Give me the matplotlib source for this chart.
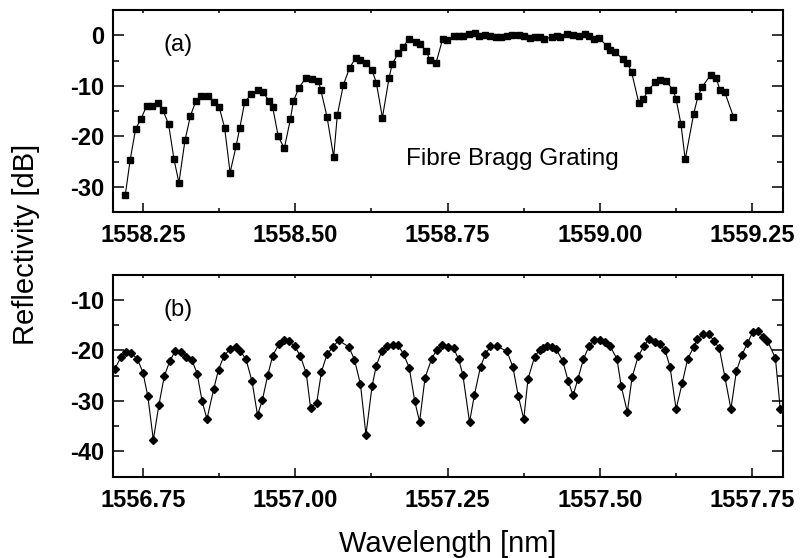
import matplotlib
matplotlib.use("Agg")
import matplotlib.pyplot as plt
from matplotlib.ticker import MultipleLocator, FormatStrFormatter

plt.rcParams['font.family'] = ['Liberation Sans', 'DejaVu Sans']
plt.rcParams['axes.unicode_minus'] = False

# Panel (a): Fibre Bragg grating reflectivity
wl_a = [1558.221, 1558.229, 1558.238, 1558.247, 1558.256, 1558.265, 1558.274, 1558.283,
        1558.292, 1558.301, 1558.309, 1558.319, 1558.328, 1558.337, 1558.346, 1558.356,
        1558.366, 1558.375, 1558.384, 1558.393, 1558.403, 1558.409, 1558.417, 1558.428,
        1558.438, 1558.447, 1558.457, 1558.463, 1558.472, 1558.482, 1558.492, 1558.497,
        1558.506, 1558.517, 1558.528, 1558.538, 1558.542, 1558.552, 1558.563, 1558.569,
        1558.579, 1558.589, 1558.599, 1558.607, 1558.616, 1558.626, 1558.633, 1558.643,
        1558.654, 1558.659, 1558.669, 1558.676, 1558.687, 1558.698, 1558.705, 1558.715,
        1558.721, 1558.731, 1558.742, 1558.749, 1558.761, 1558.768, 1558.776, 1558.785,
        1558.795, 1558.801, 1558.812, 1558.820, 1558.829, 1558.837, 1558.847, 1558.855,
        1558.868, 1558.876, 1558.885, 1558.893, 1558.902, 1558.909, 1558.921, 1558.929,
        1558.935, 1558.946, 1558.956, 1558.966, 1558.975, 1558.982, 1558.990, 1558.999,
        1559.011, 1559.017, 1559.025, 1559.038, 1559.045, 1559.052, 1559.064, 1559.071,
        1559.079, 1559.091, 1559.099, 1559.108, 1559.120, 1559.125, 1559.133, 1559.140,
        1559.154, 1559.161, 1559.168, 1559.182, 1559.191, 1559.197, 1559.205, 1559.219]
refl_a = [-31.6, -24.7, -18.5, -16.5, -14.0, -14.1, -13.4, -14.9,
          -17.6, -24.6, -29.2, -20.8, -15.9, -13.0, -12.0, -12.1,
          -13.2, -14.2, -18.3, -27.2, -21.9, -18.3, -13.2, -11.7,
          -10.8, -11.3, -13.0, -14.3, -20.0, -22.4, -16.6, -13.0,
          -10.4, -8.5, -8.6, -9.1, -10.9, -16.1, -24.1, -15.8,
          -9.8, -6.5, -4.5, -4.9, -5.4, -6.9, -9.4, -16.3,
          -8.4, -5.7, -3.6, -2.4, -0.7, -1.3, -1.8, -3.2,
          -4.9, -5.5, -0.7, -0.9, -0.2, -0.1, -0.1, 0.3,
          0.5, -0.2, 0.1, -0.1, -0.3, -0.4, -0.1, 0.1,
          0.1, -0.2, -0.6, -0.3, -0.3, -0.7, -0.4, -0.1,
          -0.4, 0.3, 0.1, -0.1, 0.2, -0.1, -0.7, -0.5,
          -2.1, -2.9, -3.4, -4.7, -5.5, -7.3, -13.5, -12.7,
          -10.9, -9.3, -8.8, -9.0, -10.8, -12.6, -17.6, -24.6,
          -15.5, -12.1, -10.2, -7.8, -8.5, -10.9, -11.3, -16.1]

# Panel (b)
wl_b = [1556.704, 1556.714, 1556.722, 1556.731, 1556.741, 1556.750, 1556.758, 1556.767,
        1556.776, 1556.785, 1556.794, 1556.803, 1556.812, 1556.821, 1556.830, 1556.839,
        1556.847, 1556.855, 1556.866, 1556.874, 1556.883, 1556.893, 1556.902, 1556.910,
        1556.919, 1556.929, 1556.938, 1556.946, 1556.955, 1556.963, 1556.973, 1556.981,
        1556.990, 1556.999, 1557.008, 1557.018, 1557.025, 1557.035, 1557.043, 1557.052,
        1557.062, 1557.071, 1557.088, 1557.097, 1557.107, 1557.116, 1557.126, 1557.133,
        1557.142, 1557.151, 1557.160, 1557.169, 1557.178, 1557.187, 1557.196, 1557.204,
        1557.213, 1557.224, 1557.232, 1557.241, 1557.250, 1557.260, 1557.268, 1557.275,
        1557.286, 1557.294, 1557.304, 1557.312, 1557.320, 1557.331, 1557.347, 1557.357,
        1557.366, 1557.375, 1557.382, 1557.393, 1557.401, 1557.407, 1557.413, 1557.421,
        1557.428, 1557.439, 1557.448, 1557.456, 1557.464, 1557.473, 1557.482, 1557.490,
        1557.500, 1557.509, 1557.517, 1557.528, 1557.535, 1557.545, 1557.553, 1557.563,
        1557.572, 1557.580, 1557.591, 1557.599, 1557.607, 1557.615, 1557.625, 1557.635,
        1557.644, 1557.654, 1557.660, 1557.670, 1557.679, 1557.688, 1557.696, 1557.705,
        1557.715, 1557.724, 1557.733, 1557.742, 1557.751, 1557.760, 1557.768, 1557.775,
        1557.788, 1557.796]
refl_b = [-23.6, -21.3, -20.3, -20.6, -21.7, -24.4, -29.1, -37.7,
          -30.9, -25.1, -22.1, -20.1, -20.3, -21.2, -21.8, -24.6,
          -30.0, -33.6, -27.7, -23.8, -21.1, -19.7, -19.3, -20.2,
          -21.7, -26.1, -32.8, -29.8, -24.8, -21.0, -18.8, -17.9,
          -18.2, -19.2, -21.0, -24.5, -31.3, -30.5, -24.2, -20.8,
          -19.3, -18.0, -19.3, -21.8, -26.7, -36.7, -27.1, -23.0,
          -20.1, -19.2, -19.0, -19.0, -20.8, -23.4, -30.0, -34.1,
          -25.4, -21.6, -19.9, -19.0, -19.3, -19.6, -21.7, -24.8,
          -34.2, -28.8, -23.2, -20.8, -19.2, -19.2, -20.1, -23.2,
          -29.0, -33.6, -25.6, -21.2, -19.9, -19.6, -19.2, -19.3,
          -19.7, -22.1, -26.1, -28.9, -25.6, -21.7, -19.2, -18.0,
          -18.0, -18.4, -19.2, -21.7, -27.1, -32.2, -25.2, -21.1,
          -19.2, -17.8, -18.3, -18.8, -20.0, -23.2, -31.6, -26.5,
          -21.7, -19.3, -17.8, -16.7, -16.8, -18.2, -19.6, -25.2,
          -31.6, -24.1, -20.9, -18.6, -16.3, -16.1, -17.4, -18.1,
          -21.5, -31.6]

xticks_a = [1558.25, 1558.50, 1558.75, 1559.00, 1559.25]
xticks_b = [1556.75, 1557.00, 1557.25, 1557.50, 1557.75]
yticks_a = [0, -10, -20, -30]
yticks_b = [-10, -20, -30, -40]

fig = plt.figure(figsize=(8, 5.58), dpi=100)
L = 112.5 / 800
W = (782.7 - 112.5) / 800
H = 202 / 558
ax1 = fig.add_axes([L, 1 - 212 / 558, W, H])
ax2 = fig.add_axes([L, 1 - 476.7 / 558, W, H])


def style(ax, xlim, ylim, xt, yt):
    ax.set_xlim(*xlim)
    ax.set_ylim(*ylim)
    ax.set_xticks(xt)
    ax.set_yticks(yt)
    ax.xaxis.set_minor_locator(MultipleLocator(0.125))
    ax.yaxis.set_minor_locator(MultipleLocator(5))
    ax.xaxis.set_major_formatter(FormatStrFormatter('%.2f'))
    for s in ax.spines.values():
        s.set_linewidth(1.5)
    ax.tick_params(axis='both', which='both', direction='in', width=1.1,
                   top=True, right=True, labelsize=17)
    ax.tick_params(axis='x', which='major', length=6.5, pad=9)
    ax.tick_params(axis='x', which='minor', length=3.2)
    ax.tick_params(axis='y', which='major', length=8, pad=6)
    ax.tick_params(axis='y', which='minor', length=4.3)
    for lab in ax.get_xticklabels() + ax.get_yticklabels():
        lab.set_fontweight('bold')


ax1.plot(wl_a, refl_a, color='black', lw=0.8, marker='s', ms=4.4)
style(ax1, (1558.2, 1559.3), (-35, 5), xticks_a, yticks_a)
ax1.text(1558.283, -1.9, '(a)', fontsize=17, va='center', ha='left')
ax1.text(1558.681, -24.6, 'Fibre Bragg Grating', fontsize=17.5, va='center', ha='left')

ax2.plot(wl_b, refl_b, color='black', lw=0.8, marker='D', ms=4.4)
style(ax2, (1556.7, 1557.8), (-45, -5), xticks_b, yticks_b)
ax2.text(1556.783, -12.0, '(b)', fontsize=17, va='center', ha='left')

for ax in (ax1, ax2):
    for t in ax.xaxis.get_major_ticks() + ax.xaxis.get_minor_ticks():
        t.tick2line.set_markersize(2.5)

fig.text(26 / 800, 1 - 244 / 558, 'Reflectivity [dB]', rotation=90,
         fontsize=21, va='center', ha='center')
fig.text(448 / 800, 1 - 552 / 558, 'Wavelength [nm]',
         fontsize=21, va='baseline', ha='center')

fig.savefig('out.png', dpi=100)
